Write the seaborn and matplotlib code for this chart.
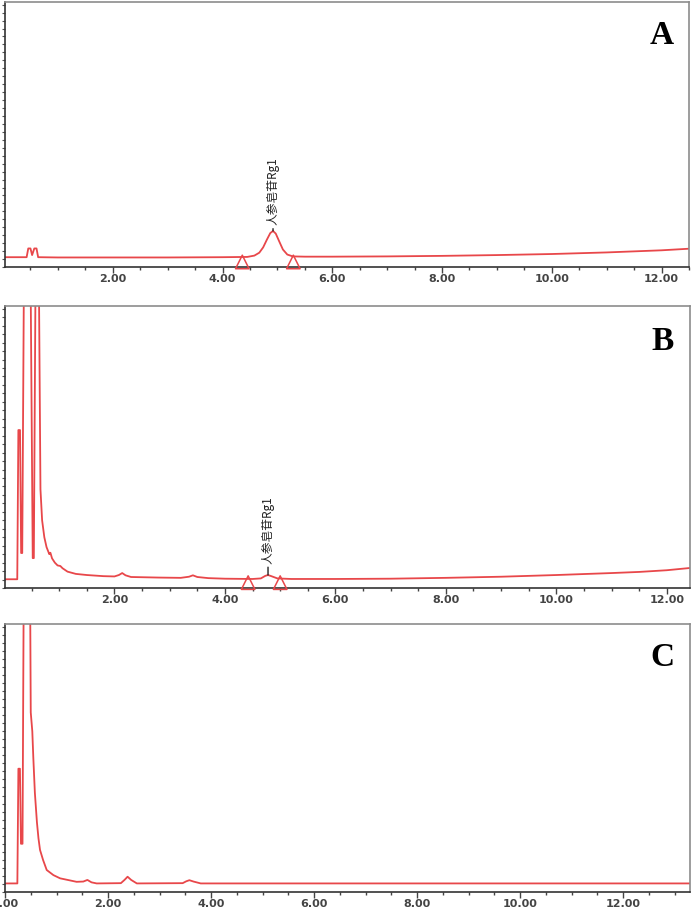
import matplotlib
matplotlib.use('Agg')
import matplotlib.pyplot as plt
from matplotlib.ticker import MultipleLocator, FormatStrFormatter
import seaborn as sns

# retention time (min) and signal (% of panel height)
a_time = [0.0, 0.43, 0.46, 0.50, 0.53, 0.57, 0.61, 0.64, 1.0, 2.0, 3.0, 4.0,
          4.45, 4.58, 4.67, 4.74, 4.81, 4.87, 4.92, 4.97, 5.03, 5.10, 5.18,
          5.28, 5.5, 6.0, 7.0, 8.0, 9.0, 10.0, 11.0, 11.5, 12.0, 12.5]
a_signal = [3.7, 3.7, 7.0, 7.0, 4.5, 7.0, 7.0, 3.7, 3.6, 3.6, 3.6, 3.7,
            3.8, 4.3, 5.4, 7.4, 10.4, 12.8, 13.6, 12.6, 9.8, 6.6, 4.7,
            4.0, 3.9, 3.9, 4.0, 4.2, 4.5, 4.9, 5.5, 5.9, 6.3, 6.9]

b_time = [0.0, 0.24, 0.26, 0.29, 0.31, 0.33, 0.37, 0.47, 0.52, 0.54, 0.58,
          0.62, 0.66, 0.69, 0.73, 0.77, 0.82, 0.84, 0.87, 0.92, 0.97, 1.02,
          1.06, 1.15, 1.3, 1.5, 1.8, 2.0, 2.08, 2.14, 2.2, 2.3, 2.8, 3.2,
          3.35, 3.42, 3.5, 3.7, 4.0, 4.5, 4.65, 4.73, 4.78, 4.84, 4.95, 5.2,
          6.0, 7.0, 8.0, 9.0, 10.0, 11.0, 11.5, 12.0, 12.42]
b_signal = [3.1, 3.1, 56.0, 56.0, 12.4, 12.4, 140.0, 140.0, 10.6, 10.6, 140.0,
            140.0, 35.0, 24.0, 18.0, 14.5, 12.0, 12.5, 10.5, 9.0, 8.0, 7.8,
            7.0, 5.8, 5.0, 4.6, 4.2, 4.1, 4.6, 5.3, 4.5, 3.9, 3.7, 3.6,
            4.0, 4.5, 3.9, 3.5, 3.3, 3.2, 3.4, 4.3, 4.6, 4.2, 3.4, 3.2,
            3.2, 3.3, 3.6, 4.0, 4.6, 5.3, 5.7, 6.3, 7.1]

c_time = [0.0, 0.24, 0.26, 0.29, 0.31, 0.34, 0.37, 0.48, 0.50, 0.53, 0.55,
          0.58, 0.62, 0.65, 0.68, 0.74, 0.81, 0.94, 1.07, 1.39, 1.52, 1.60,
          1.68, 1.78, 2.25, 2.32, 2.38, 2.45, 2.56, 3.45, 3.52, 3.58, 3.66,
          3.80, 6.0, 9.0, 13.3]
c_signal = [3.2, 3.2, 46.0, 46.0, 18.0, 18.0, 140.0, 140.0, 67.0, 60.0, 50.0,
            37.0, 26.0, 20.0, 15.7, 11.9, 8.2, 6.3, 5.1, 3.8, 3.9, 4.5,
            3.6, 3.2, 3.3, 4.5, 5.7, 4.5, 3.2, 3.3, 4.0, 4.4, 3.9,
            3.2, 3.2, 3.2, 3.2]

# integration start/end markers
a_marks = [4.36, 5.29]
b_marks = [4.42, 5.00]
mark_level = 1.9

peak_name = '人参皂苷Rg1'
a_peak = (4.92, 13.6)
b_peak = (4.78, 4.6)

panel_names = ['A', 'B', 'C']
x_limits = [(0.036, 12.5), (0.018, 12.42), (0.0, 13.3)]

line_color = '#e8474a'

sns.set_style('ticks')
plt.rcParams['font.family'] = ['DejaVu Sans']

W, H = 692, 911
fig = plt.figure(figsize=(W / 100, H / 100), dpi=100)


def make_axes(left, top, right, bottom):
  return fig.add_axes([left / W, 1 - bottom / H, (right - left) / W, (bottom - top) / H])


axes = [make_axes(5, 2, 689, 267),
        make_axes(5, 306, 690, 588),
        make_axes(5, 624, 690, 892)]

curves = [(a_time, a_signal), (b_time, b_signal), (c_time, c_signal)]
marks = [a_marks, b_marks, None]
peaks = [a_peak, b_peak, None]
label_gap = [4, 8, None]

for i, ax in enumerate(axes):
  t, s = curves[i]
  sns.lineplot(x=t, y=s, sort=False, estimator=None, ax=ax,
               color=line_color, lw=1.3)

  if marks[i] is not None:
    sns.scatterplot(x=marks[i], y=[mark_level] * len(marks[i]), marker='^',
                    s=95, ax=ax, linewidth=1.1, clip_on=False, zorder=3)
    coll = ax.collections[-1]
    coll.set_facecolor('none')
    coll.set_edgecolor(line_color)

  if peaks[i] is not None:
    ax.annotate(peak_name, xy=peaks[i], xytext=(0, label_gap[i]),
                textcoords='offset points', rotation=90,
                ha='center', va='bottom', fontsize=8.5, color='#222222',
                family=['Noto Sans CJK SC', 'DejaVu Sans'],
                arrowprops=dict(arrowstyle='-', color='#222222', lw=1.0,
                                shrinkA=0, shrinkB=0))

  ax.set_xlim(*x_limits[i])
  ax.set_ylim(0, 100)
  ax.xaxis.set_major_locator(MultipleLocator(2))
  ax.xaxis.set_minor_locator(MultipleLocator(0.5))
  ax.xaxis.set_major_formatter(FormatStrFormatter('%.2f'))
  ax.yaxis.set_major_locator(MultipleLocator(3))
  ax.set_yticklabels([])
  ax.tick_params(axis='x', which='major', length=4, width=1, color='#444444',
                 labelsize=8, labelcolor='#444444', pad=1)
  ax.tick_params(axis='x', which='minor', length=2.5, width=1, color='#444444')
  ax.tick_params(axis='y', which='major', length=2.5, width=0.8, color='#555555')
  for lab in ax.get_xticklabels():
    lab.set_fontweight('bold')
  ax.set_xlabel('')
  ax.set_ylabel('')

  for side in ['top', 'right']:
    ax.spines[side].set_color('#8c8c8c')
    ax.spines[side].set_linewidth(1.2)
  for side in ['left', 'bottom']:
    ax.spines[side].set_color('#333333')
    ax.spines[side].set_linewidth(1.2)

  ax.text(0.96, 0.875, panel_names[i], transform=ax.transAxes,
          ha='center', va='center', fontsize=24, fontweight='bold',
          family='Liberation Serif', color='black')

fig.savefig('out.png', dpi=100)
